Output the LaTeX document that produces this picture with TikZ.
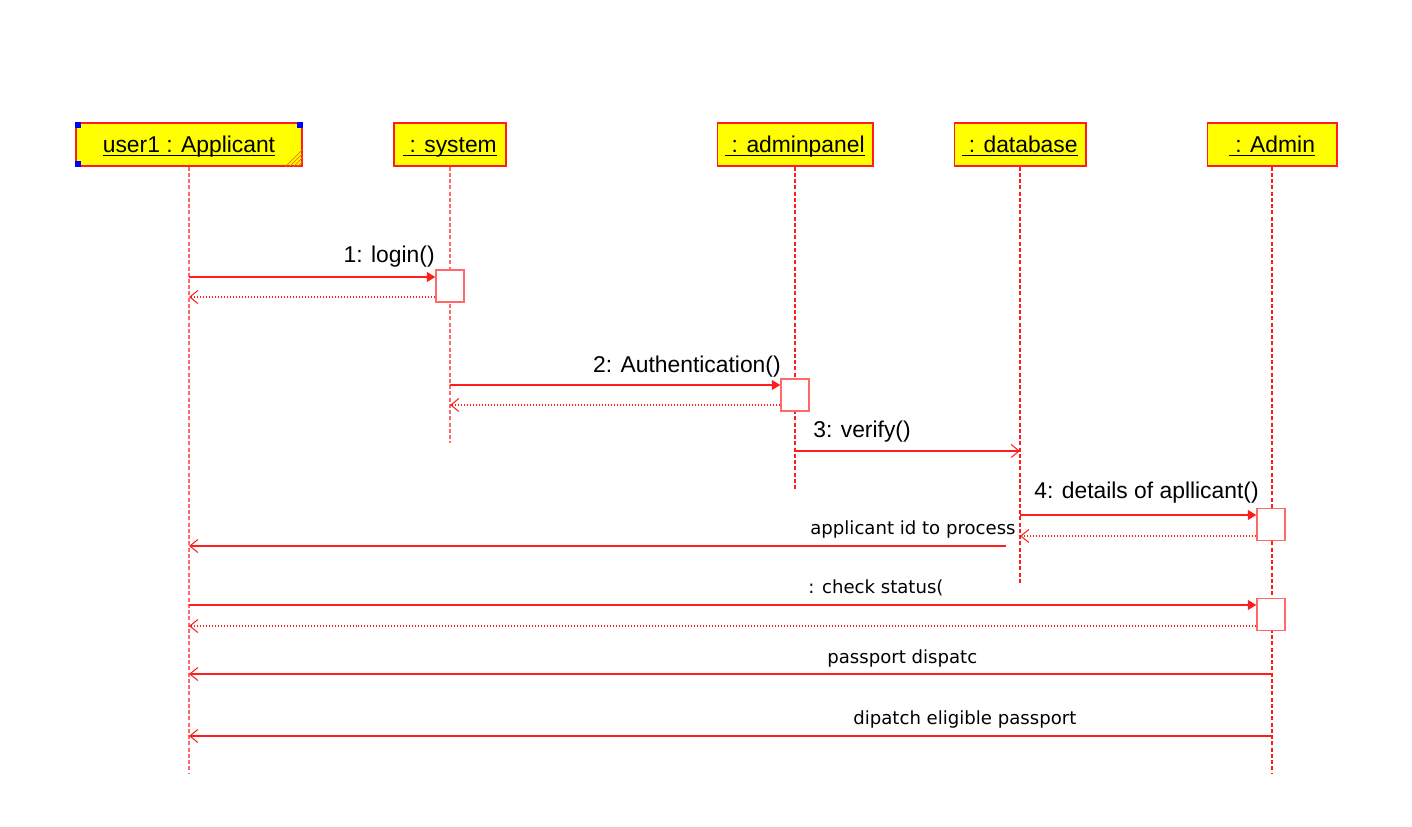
\documentclass[tikz,border=0pt]{standalone}
\usepackage{fontspec}
\setmainfont{Liberation Sans}
\newfontfamily\msgfont{DejaVu Sans}
\usepackage{tikz}
\usetikzlibrary{arrows.meta}
\usetikzlibrary{calc}
\definecolor{umlred}{RGB}{255,30,30}
\definecolor{umlpink}{RGB}{255,105,105}
\definecolor{umlyellow}{RGB}{255,255,0}
\definecolor{hatch}{RGB}{255,110,0}
\tikzset{obj/.style={draw=umlred, fill=umlyellow, line width=0.6pt, minimum height=0.86cm, inner sep=0pt, text height=9.5pt, text depth=0pt, font=\fontsize{13}{13}\selectfont}}
\tikzset{life/.style={umlred, line width=0.6pt, dash pattern=on 0.8mm off 0.45mm}}
\tikzset{act/.style={draw=umlpink, fill=white, line width=0.8pt, minimum width=0.56cm, minimum height=0.64cm, inner sep=0pt}}
\tikzset{call/.style={umlred, line width=0.6pt, -{Triangle[length=1.7mm, width=2mm]}}}
\tikzset{sig/.style={umlred, line width=0.6pt, -{Straight Barb[length=1.6mm, width=2.6mm]}}}
\tikzset{ret/.style={sig, dash pattern=on 0.2mm off 0.4mm}}
\tikzset{l/.style={font=\fontsize{13}{13}\selectfont, inner sep=0pt}}
\tikzset{m/.style={font=\msgfont\fontsize{10.3}{10.3}\selectfont, inner sep=0pt}}
\newcommand{\objname}[1]{\underline{\smash{#1}}}
\newcommand{\selmarks}[1]{
  \fill[blue] (#1.north west) rectangle ++(6,6);
  \fill[blue] (#1.north east) rectangle ++(-6,6);
  \fill[blue] (#1.south west) rectangle ++(6,-6);
  \foreach \n in {5,9,13,17}
    \draw[hatch, line width=0.4pt] ($(#1.south east)+(-\n,0)$) -- ($(#1.south east)+(0,-\n)$);
}

\begin{document}
\begin{tikzpicture}[x=0.02cm, y=-0.02cm]
    \useasboundingbox (0,0) rectangle (1412,827);
    \node[obj, minimum width=4.52cm] (app) at (189,144.5) {\objname{user1 : Applicant}};
    \node[obj, minimum width=2.24cm] (sys) at (450,144.5) {\objname{\ : system}};
    \node[obj, minimum width=3.12cm] (pnl) at (795,144.5) {\objname{\ : adminpanel}};
    \node[obj, minimum width=2.64cm] (db) at (1020,144.5) {\objname{\ : database}};
    \node[obj, minimum width=2.60cm] (adm) at (1272,144.5) {\objname{\ : Admin}};
    \selmarks{app}
    % lifelines
    \coordinate (appEnd) at (189,773);
    \coordinate (sysEnd) at (450,443);
    \coordinate (pnlEnd) at (795,490);
    \coordinate (dbEnd) at (1020,583);
    \coordinate (admEnd) at (1272,773);
    \draw[life, umlpink] (app) -- (appEnd);
    \draw[life, umlpink] (sys) -- (sysEnd);
    \draw[life] (pnl) -- (pnlEnd);
    \draw[life] (db) -- (dbEnd);
    \draw[life] (adm) -- (admEnd);
    \node[act] (act1) at (450,286) {};
    \node[act] (act2) at (795,395) {};
    \node[act] (act3) at (1271,524.5) {};
    \node[act] (act4) at (1271,614.5) {};
    % message levels
    \coordinate (y1) at (0,277);
    \coordinate (r1) at (0,297);
    \coordinate (y2) at (0,385);
    \coordinate (r2) at (0,405);
    \coordinate (y3) at (0,451);
    \coordinate (y4) at (0,515);
    \coordinate (r4) at (0,536);
    \coordinate (y5) at (1006,546);
    \coordinate (y6) at (0,605);
    \coordinate (r6) at (0,626);
    \coordinate (y7) at (0,674);
    \coordinate (y8) at (0,736);
    \draw[call] (app |- y1) -- (act1.west |- y1);
    \draw[ret] (act1.west |- r1) -- (app |- r1);
    \draw[call] (sys |- y2) -- (act2.west |- y2);
    \draw[ret] (act2.west |- r2) -- (sys |- r2);
    \draw[sig] (pnl |- y3) -- (db |- y3);
    \draw[call] (db |- y4) -- (act3.west |- y4);
    \draw[ret] (act3.west |- r4) -- (db |- r4);
    \draw[sig] (y5) -- (app |- y5);
    \draw[call] (app |- y6) -- (act4.west |- y6);
    \draw[ret] (act4.west |- r6) -- (app |- r6);
    \draw[sig] (adm |- y7) -- (app |- y7);
    \draw[sig] (adm |- y8) -- (app |- y8);
    % labels
    \node[l, anchor=base east] (t1) at (435,263) {1: login()};
    \node[l, anchor=base east] (t2) at (781,372) {2: Authentication()};
    \node[l, anchor=base west] (t3) at (813,437) {3: verify()};
    \node[l, anchor=base west] (t4) at (1034,498) {4: details of apllicant()};
    \node[m, anchor=base west] (t5) at (810,534) {applicant id to process};
    \node[m, anchor=base west] (t6) at (808,593) {: check status(};
    \node[m, anchor=base west] (t7) at (827,663) {passport dispatc};
    \node[m, anchor=base west] (t8) at (853,724) {dipatch eligible passport};
\end{tikzpicture}
\end{document}
